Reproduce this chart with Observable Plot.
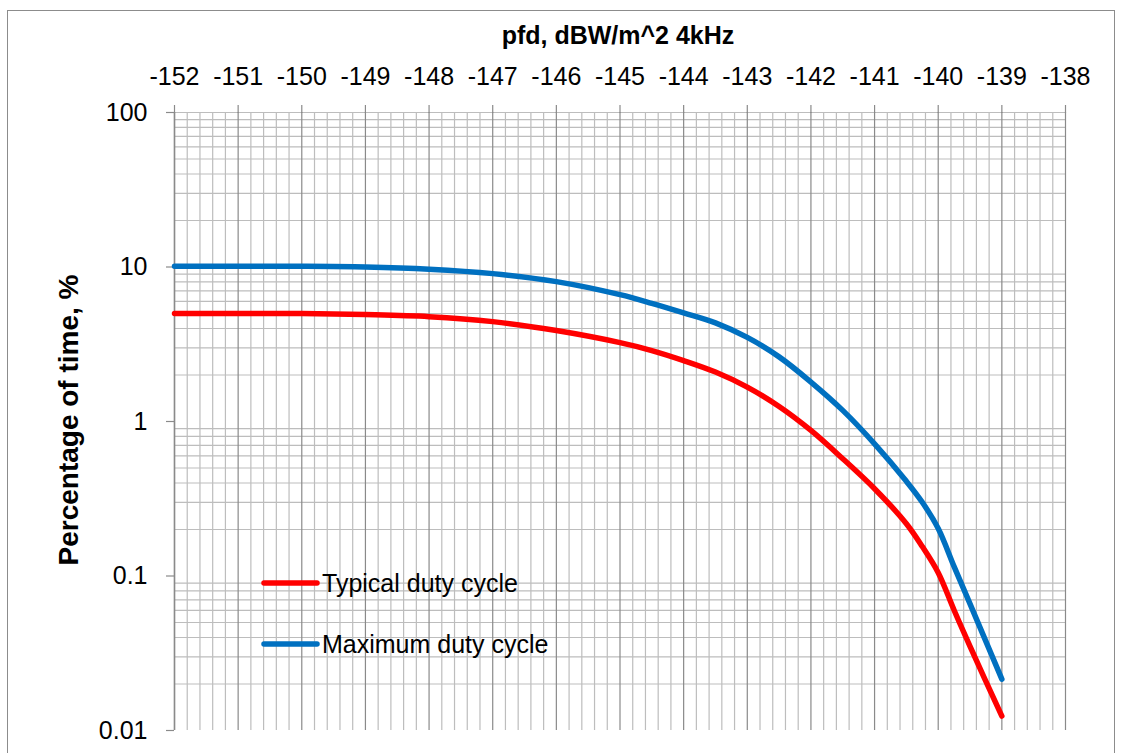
<!DOCTYPE html>
<html>
<head>
<meta charset="utf-8">
<script src="https://cdn.jsdelivr.net/npm/d3@7"></script>
<script src="https://cdn.jsdelivr.net/npm/@observablehq/plot@0.6"></script>
<style>
  html, body { margin: 0; padding: 0; background: #fff; overflow: hidden; }
  #wrap { position: relative; width: 1123px; height: 753px; }
  #border { position: absolute; left: 7px; top: 10px; width: 1108px; height: 760px; border: 1.5px solid #8c8c8c; box-sizing: border-box; pointer-events: none; }
  svg { font-family: "Liberation Sans", Arial, sans-serif; }
</style>
</head>
<body>
<div id="wrap"><div id="border"></div></div>
<script>
// ---- data ----
const pfd = [-152, -151, -150, -149, -148, -147, -146, -145, -144.5, -144, -143.5, -143, -142.5, -142, -141.5, -141, -140.5, -140.25, -140, -139.75, -139.5, -139];
const typical = [5.0, 5.0, 5.0, 4.92, 4.77, 4.43, 3.88, 3.24, 2.88, 2.48, 2.09, 1.67, 1.25, 0.875, 0.574, 0.367, 0.218, 0.155, 0.105, 0.060, 0.035, 0.0124];
const maximum = [10.1, 10.1, 10.1, 10.0, 9.68, 9.06, 8.04, 6.62, 5.82, 5.05, 4.35, 3.5, 2.62, 1.8, 1.18, 0.717, 0.41, 0.30, 0.203, 0.115, 0.066, 0.0215];
const xTicks = [-152, -151, -150, -149, -148, -147, -146, -145, -144, -143, -142, -141, -140, -139, -138];
const yTicks = [0.01, 0.1, 1, 10, 100];
const yTickLabels = ["0.01", "0.1", "1", "10", "100"];
const seriesNames = ["Typical duty cycle", "Maximum duty cycle"];
const seriesColors = ["#ff0000", "#0070c0"];
const xTitle = "pfd, dBW/m^2 4kHz";
const yTitle = "Percentage of time, %";

// ---- derived tables ----
const rows = [];
pfd.forEach((x, i) => {
  rows.push({x, y: typical[i], s: seriesNames[0]});
  rows.push({x, y: maximum[i], s: seriesNames[1]});
});
const xMinor = d3.range(-152, -138.0001, 0.2).map(v => Math.round(v * 10) / 10).filter(v => !xTicks.includes(v));
const yMinor = [];
[0.01, 0.1, 1, 10].forEach(d => { for (let k = 2; k <= 9; k++) yMinor.push(+(d * k).toPrecision(3)); });

const W = 1123, H = 753;
const plot = Plot.plot({
  width: W, height: H,
  marginLeft: 174, marginRight: 58, marginTop: 112, marginBottom: 23,
  style: {fontFamily: "'Liberation Sans', Arial, sans-serif", background: "transparent", overflow: "visible"},
  x: {domain: [-152, -138]},
  y: {type: "log", domain: [0.01, 100]},
  color: {domain: seriesNames, range: seriesColors},
  marks: [
    Plot.ruleX(xMinor, {stroke: "#bdbdbd", strokeWidth: 1.2}),
    Plot.ruleY(yMinor, {stroke: "#bdbdbd", strokeWidth: 1.2}),
    Plot.ruleY([100], {stroke: "#bdbdbd", strokeWidth: 1.2}),
    Plot.ruleX(xTicks, {stroke: "#8a8a8a", strokeWidth: 1.2}),
    Plot.axisX({anchor: "top", ticks: xTicks, tickSize: 8, tickPadding: 20, tickFormat: d => String(d),
      fontSize: 25, stroke: "#8a8a8a", strokeWidth: 1.2, color: "#000", label: null}),
    Plot.axisY({anchor: "left", ticks: yTicks, tickSize: 8, tickPadding: 19,
      tickFormat: d => yTickLabels[yTicks.indexOf(d)], fontSize: 25, stroke: "#8a8a8a", strokeWidth: 1.2, label: null}),
    Plot.ruleX([-152], {stroke: "#8a8a8a", strokeWidth: 1.5}),
    Plot.line(rows, {x: "x", y: "y", z: "s", stroke: "s", strokeWidth: 5.5, curve: "catmull-rom", strokeLinecap: "round", strokeLinejoin: "round"})
  ]
});
document.getElementById("wrap").appendChild(plot);

// ---- titles and legend ----
const svg = d3.select(plot);
svg.selectAll("g[aria-label='x-axis tick label'] text, g[aria-label='y-axis tick label'] text").attr("fill", "#000");
svg.append("text").attr("x", 618).attr("y", 44).attr("text-anchor", "middle")
  .attr("font-size", 25).attr("font-weight", "bold").attr("fill", "#000").text(xTitle);
svg.append("text").attr("transform", "translate(78,420) rotate(-90)").attr("text-anchor", "middle")
  .attr("font-size", 28).attr("font-weight", "bold").attr("fill", "#000").text(yTitle);
const leg = svg.append("g");
seriesNames.forEach((name, i) => {
  const yy = 583 + i * 61;
  leg.append("line").attr("x1", 264).attr("x2", 317).attr("y1", yy).attr("y2", yy)
    .attr("stroke", seriesColors[i]).attr("stroke-width", 5.5).attr("stroke-linecap", "round");
  leg.append("text").attr("x", 322).attr("y", yy).attr("dy", "0.35em").attr("text-anchor", "start")
    .attr("font-size", 25).attr("fill", "#000").text(name);
});
</script>
</body>
</html>
